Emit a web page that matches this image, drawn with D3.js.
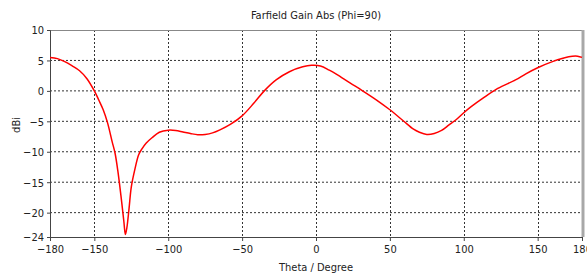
<!DOCTYPE html>
<html>
<head>
<meta charset="utf-8">
<script src="https://cdn.jsdelivr.net/npm/d3@7.9.0/dist/d3.min.js"></script>
<style>
  html, body { margin: 0; padding: 0; background: #fff; }
  svg { display: block; font-family: "DejaVu Sans Condensed", "DejaVu Sans", sans-serif; }
  .lbl { font-size: 11px; fill: #222; }
</style>
</head>
<body>
<svg id="chart" width="587" height="273"></svg>
<script>
// values
const theta = [-180, -175, -170, -165, -160, -155, -150, -147, -144, -141, -138, -136, -134, -132, -130, -129,
  -128, -126.5, -125, -122.5, -120, -118, -115, -111, -106, -100, -95, -90, -85, -80, -75, -70, -65, -58, -50,
  -42, -35, -27, -18, -9, -3, 3, 9, 14, 23, 31, 41, 50, 59, 66, 70, 75, 80, 85, 90, 95, 100, 105, 113, 123, 135,
  142, 150, 160, 171, 177, 180];
const gain = [5.5, 5.3, 4.8, 4.1, 3.3, 2.0, 0.0, -1.5, -3.1, -5.3, -8.3, -10.2, -13.3, -17.2, -21.5, -23.6,
  -22.5, -19.3, -15.8, -12.8, -10.5, -9.6, -8.6, -7.7, -6.8, -6.45, -6.5, -6.75, -7.0, -7.2, -7.15, -6.9, -6.4, -5.5, -4.1,
  -2.0, 0.0, 1.8, 3.15, 3.95, 4.2, 4.1, 3.4, 2.7, 1.3, 0.1, -1.5, -3.1, -4.9, -6.3, -6.8, -7.15, -7.0, -6.5, -5.6, -4.7, -3.6, -2.6, -1.2, 0.4, 1.8,
  2.8, 3.8, 4.8, 5.6, 5.7, 5.5];
const xTicks = [-180, -150, -100, -50, 0, 50, 100, 150, 180];
const yTicks = [10, 5, 0, -5, -10, -15, -20, -24];
const xGrid = [-150, -100, -50, 0, 50, 100, 150];
const yGrid = [5, 0, -5, -10, -15, -20];

const plotL = 50, plotR = 582, plotT = 30, plotB = 237;
const svg = d3.select('#chart');

let x = d3.scaleLinear().domain([-180, 180]).range([plotL, plotR]);
let y = d3.scaleLinear().domain([-24, 10]).range([plotB, plotT]);

// grid
svg.append('g').selectAll('line').data(xGrid).join('line')
  .attr('x1', d => Math.round(x(d)) + 0.5).attr('x2', d => Math.round(x(d)) + 0.5)
  .attr('y1', plotT).attr('y2', plotB)
  .attr('stroke', '#333').attr('stroke-dasharray', '2,2');
svg.append('g').selectAll('line').data(yGrid).join('line')
  .attr('y1', d => y(d)).attr('y2', d => y(d))
  .attr('x1', plotL).attr('x2', plotR)
  .attr('stroke', '#333').attr('stroke-dasharray', '2,2');

// frame
svg.append('line').attr('x1', plotL).attr('x2', plotR).attr('y1', plotT + 0.5).attr('y2', plotT + 0.5)
  .attr('stroke', '#888');
svg.append('line').attr('x1', plotR + 1).attr('x2', plotR + 1).attr('y1', plotT).attr('y2', plotB)
  .attr('stroke', '#a8a8a8').attr('stroke-width', 3);

// axes
const xAxis = d3.axisBottom(x).tickValues(xTicks).tickSize(4).tickPadding(4).tickFormat(d3.format('d'));
const yAxis = d3.axisLeft(y).tickValues(yTicks).tickSize(3).tickPadding(3).tickFormat(d3.format('d'));
const gx = svg.append('g').attr('transform', `translate(0,${plotB})`).call(xAxis);
const gy = svg.append('g').attr('transform', `translate(${plotL},0)`).call(yAxis);
[gx, gy].forEach(g => {
  g.select('.domain').attr('stroke', '#444');
  g.selectAll('.tick line').attr('stroke', '#444');
  g.selectAll('.tick text').attr('class', 'lbl').attr('fill', '#222')
    .style('font-family', '"DejaVu Sans Condensed", "DejaVu Sans", sans-serif').style('font-size', '11px');
});
gy.selectAll('.tick text').attr('dy', '0.35em');

// curve
const line = d3.line().x((d, i) => x(theta[i])).y(d => y(d)).curve(d3.curveCatmullRom.alpha(0.5));
svg.append('path').datum(gain).attr('d', line)
  .attr('fill', 'none').attr('stroke', '#ff0000').attr('stroke-width', 1.5);

// texts
svg.append('text').attr('class', 'lbl').attr('x', 316).attr('y', 19).attr('text-anchor', 'middle')
  .text('Farfield Gain Abs (Phi=90)');
svg.append('text').attr('class', 'lbl').attr('x', 316).attr('y', 271).attr('text-anchor', 'middle')
  .text('Theta / Degree');
svg.append('text').attr('class', 'lbl').attr('transform', 'translate(20,125) rotate(-90)')
  .attr('text-anchor', 'middle').text('dBi');
</script>
</body>
</html>
